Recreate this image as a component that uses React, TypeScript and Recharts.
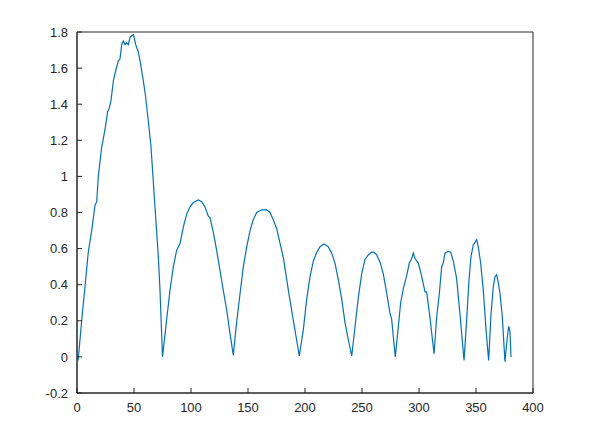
import React from "react";
import { LineChart, Line, XAxis, YAxis, ReferenceArea } from "recharts";

const xValues = [
  1, 4.1, 7, 9.9, 12.9, 15.8, 17.3, 18.7, 21.6, 24.6, 26.9, 28, 29.8, 31.9, 33.3, 36.3, 37.7, 39.2, 40.6, 42.1,
  43.6, 45, 46.5, 48, 49.5, 50.3, 51.5, 53.8, 55.3, 58.2, 60.2, 62.5, 64.9, 68.4, 71.3, 72.8, 75, 78.7, 81.6, 84.5,
  87.4, 90.4, 93.3, 96.2, 99.1, 102, 106.4, 109.4, 112.3, 115.2, 116.7, 119.6, 122.5, 125.4, 128.3, 131.3, 134.2,
  137.1, 140, 143, 145.9, 148.9, 151.8, 154.6, 157.6, 162, 166.4, 169.3, 172.2, 175.2, 176.6, 181, 185.4, 189.7,
  195, 198.5, 201.5, 204.4, 207.3, 210.3, 213.2, 216.7, 220.4, 223.4, 226.3, 229.2, 232.2, 235.1, 238, 241, 243.9,
  246.8, 249.7, 252.6, 255.5, 258.5, 260.5, 262.9, 265.8, 268.7, 271.7, 274.6, 276, 277.5, 279.2, 281.9, 283.9,
  286.3, 289.2, 291.5, 293.6, 295, 296.5, 299.4, 302.4, 305.3, 306.7, 309.6, 313.2, 315.5, 317.8, 319.9, 321.3,
  322.8, 325.7, 327.8, 330.1, 333, 335.9, 339.5, 341.8, 343.9, 345.6, 347.6, 349.7, 350.6, 352, 354.1, 356.4,
  358.8, 361.1, 363.2, 365.2, 366.7, 368.1, 369.6, 371.1, 373.1, 375.4, 377.5, 378.7, 379.8, 380.7,
];

const yValues = [
  -0.02, 0.2, 0.39, 0.58, 0.7, 0.84, 0.86, 1.0, 1.16, 1.26, 1.36, 1.37, 1.42, 1.53, 1.57, 1.64, 1.65, 1.73, 1.75, 1.73,
  1.74, 1.73, 1.77, 1.78, 1.785, 1.765, 1.73, 1.69, 1.64, 1.53, 1.44, 1.31, 1.165, 0.83, 0.56, 0.37, 0.0, 0.21, 0.37, 0.5,
  0.59, 0.63, 0.72, 0.79, 0.83, 0.855, 0.87, 0.86, 0.83, 0.78, 0.77, 0.69, 0.59, 0.48, 0.37, 0.26, 0.13,
  0.01, 0.19, 0.35, 0.5, 0.61, 0.7, 0.76, 0.8, 0.815, 0.815, 0.8, 0.76, 0.71, 0.67, 0.55, 0.37, 0.205,
  0.005, 0.15, 0.32, 0.445, 0.53, 0.58, 0.61, 0.625, 0.61, 0.575, 0.52, 0.43, 0.32, 0.19, 0.095, 0.005, 0.17,
  0.33, 0.46, 0.54, 0.565, 0.58, 0.58, 0.565, 0.525, 0.46, 0.35, 0.24, 0.21, 0.11, 0.0, 0.17, 0.3,
  0.38, 0.45, 0.52, 0.545, 0.575, 0.545, 0.52, 0.445, 0.36, 0.36, 0.22, 0.017, 0.22, 0.35, 0.5, 0.52,
  0.575, 0.585, 0.58, 0.53, 0.435, 0.24, -0.02, 0.205, 0.43, 0.555, 0.62, 0.64, 0.65, 0.61, 0.52, 0.37,
  0.15, -0.02, 0.24, 0.39, 0.445, 0.455, 0.41, 0.35, 0.22, -0.026, 0.11, 0.17, 0.14, 0.0,
];

const xTicks = [0, 50, 100, 150, 200, 250, 300, 350, 400];
const yTicks = [-0.2, 0, 0.2, 0.4, 0.6, 0.8, 1, 1.2, 1.4, 1.6, 1.8];

const data = xValues.map((x, i) => ({ x, y: yValues[i] }));

const axisColor = "#262626";
const lineStyle = { stroke: axisColor, strokeWidth: 1 };
const font = { fontFamily: "Liberation Sans, Arial, sans-serif", fontSize: 13, fill: axisColor };
const fmtY = (v: number) => String(Math.round(v * 10) / 10);

export default function App() {
  return (
    <div style={{ position: "absolute", left: 0, top: 0, background: "#fff" }}>
      <LineChart
        width={589}
        height={442}
        data={data}
        margin={{ top: 32, right: 56, bottom: 0, left: 0 }}
      >
        <XAxis
          dataKey="x"
          type="number"
          domain={[0, 400]}
          ticks={xTicks}
          interval={0}
          tickSize={-5}
          tickMargin={15}
          axisLine={lineStyle}
          tickLine={lineStyle}
          tick={font}
          height={49}
        />
        <XAxis
          xAxisId="top"
          orientation="top"
          dataKey="x"
          type="number"
          domain={[0, 400]}
          ticks={xTicks}
          interval={0}
          tickSize={-5}
          tick={false}
          axisLine={lineStyle}
          tickLine={lineStyle}
          height={0}
        />
        <YAxis
          type="number"
          domain={[-0.2, 1.8]}
          ticks={yTicks}
          interval={0}
          tickSize={-5}
          tickMargin={14}
          tickFormatter={fmtY}
          axisLine={lineStyle}
          tickLine={lineStyle}
          tick={font}
          width={77}
        />
        <YAxis
          yAxisId="right"
          orientation="right"
          type="number"
          domain={[-0.2, 1.8]}
          ticks={yTicks}
          interval={0}
          tickSize={-5}
          tick={false}
          axisLine={lineStyle}
          tickLine={lineStyle}
          width={0}
        />
        <ReferenceArea
          x1={0}
          x2={400}
          y1={-0.2}
          y2={1.8}
          fill="none"
          fillOpacity={0}
          stroke={axisColor}
          strokeWidth={1}
          ifOverflow="visible"
        />
        <Line
          xAxisId="top"
          yAxisId="right"
          dataKey="y"
          type="linear"
          stroke="none"
          strokeOpacity={0}
          dot={false}
          activeDot={false}
          legendType="none"
          isAnimationActive={false}
        />
        <Line
          dataKey="y"
          type="linear"
          stroke="#0072BD"
          strokeWidth={1.2}
          dot={false}
          isAnimationActive={false}
        />
      </LineChart>
    </div>
  );
}
